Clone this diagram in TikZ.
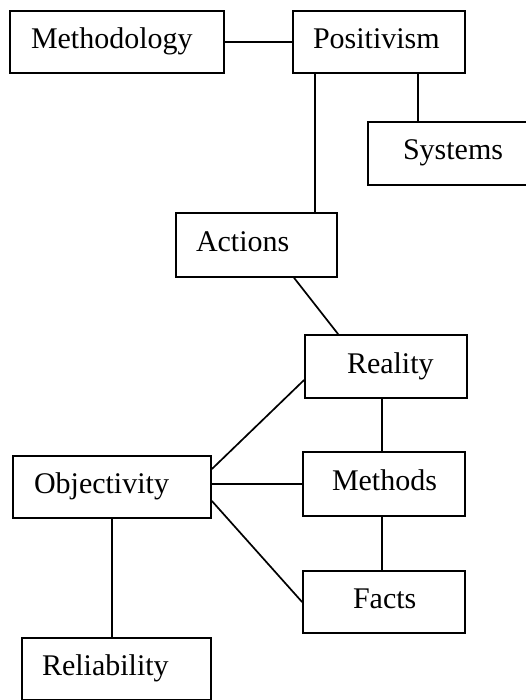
\documentclass[tikz,border=0pt]{standalone}
\usepackage{fontspec}
\setmainfont{Liberation Serif}
\begin{document}
\begin{tikzpicture}[x=1pt, y=-1pt,
  box/.style 2 args={draw, line width=1.8pt, rectangle, inner xsep=0pt, inner ysep=0pt,
    text height=20pt, text depth=7pt, align=left, text width=#1, minimum height=#2},
  link/.style={line width=1.7pt},
  font=\fontsize{30}{36}\selectfont]

\useasboundingbox (0,0) rectangle (525,700);

% concept boxes
\node[box={214pt}{62pt}] (methodology) at (117,42)     {\hspace*{21pt}Methodology};
\node[box={172pt}{62pt}] (positivism)  at (379,42)     {\hspace*{20pt}Positivism};
\node[box={169pt}{63pt}] (systems)     at (452.5,153.5){\hspace*{35pt}Systems};
\node[box={161pt}{64pt}] (actions)     at (256.5,245)  {\hspace*{20pt}Actions};
\node[box={162pt}{63pt}] (reality)     at (386,366.5)  {\hspace*{42pt}Reality};
\node[box={198pt}{62pt}] (objectivity) at (112,487)    {\hspace*{21pt}Objectivity};
\node[box={162pt}{64pt}] (methods)     at (384,484)    {\hspace*{29pt}Methods};
\node[box={162pt}{62pt}] (facts)       at (384,602)    {\hspace*{50pt}Facts};
\node[box={189pt}{62pt}] (reliability) at (116.5,669)  {\hspace*{20pt}Reliability};

% connectors
\draw[link] (methodology.east) -- (positivism.west);
\draw[link] ([xshift=126pt]positivism.south west) -- ([xshift=126pt]positivism.south west |- systems.north);
\draw[link] ([xshift=23pt]positivism.south west) -- ([xshift=23pt]positivism.south west |- actions.north);
\draw[link] ([xshift=119pt]actions.south west) -- ([xshift=34pt]reality.north west);
\draw[link] ([yshift=18pt]objectivity.east) -- ([yshift=-13.5pt]reality.west);
\draw[link] (methods.west) -- (methods.west -| objectivity.east);
\draw[link] ([yshift=-14pt]objectivity.east) -- (facts.west);
\draw[link] ([xshift=-4pt]reality.south) -- ([xshift=-4pt]reality.south |- methods.north);
\draw[link] ([xshift=-2pt]methods.south) -- ([xshift=-2pt]methods.south |- facts.north);
\draw[link] (objectivity.south) -- (objectivity.south |- reliability.north);
\end{tikzpicture}
\end{document}
